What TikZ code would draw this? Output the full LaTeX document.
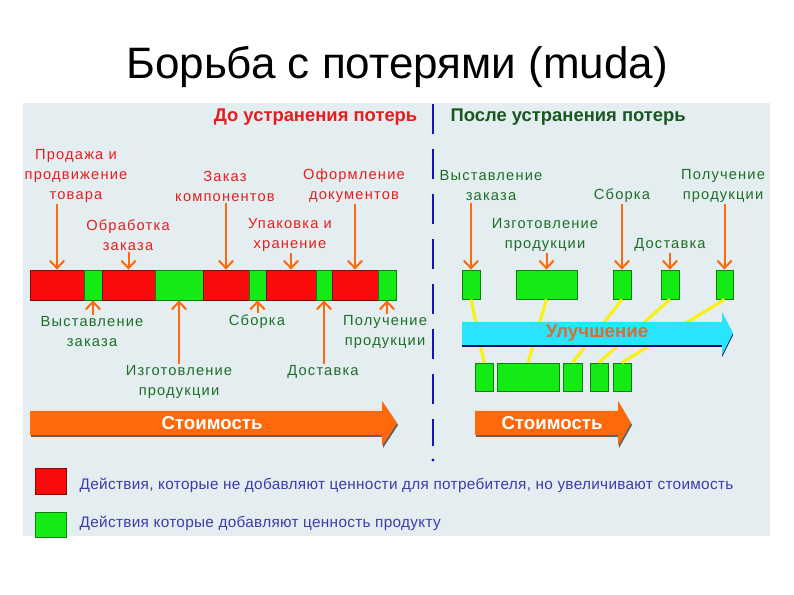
\documentclass[tikz,border=0pt]{standalone}
\usepackage{fontspec}
\setmainfont{Liberation Sans}
\newfontfamily\lbl[LetterSpace=8]{Liberation Sans}
\newfontfamily\lgd[LetterSpace=2]{Liberation Sans}
\usetikzlibrary{arrows.meta,fit,shadows}
\definecolor{waste}{RGB}{250,10,10}
\definecolor{value}{RGB}{20,235,20}
\definecolor{rust}{RGB}{255,105,10}
\definecolor{sky}{RGB}{40,228,252}
\definecolor{panel}{RGB}{228,238,240}
\definecolor{redtxt}{RGB}{228,30,30}
\definecolor{grntxt}{RGB}{30,110,40}
\definecolor{navy}{RGB}{20,20,190}
\definecolor{lgdtxt}{RGB}{60,60,170}
\definecolor{yel}{RGB}{250,240,20}
\definecolor{improve}{RGB}{215,110,50}
\tikzset{
  >={Straight Barb[length=2mm,width=3.8mm]},
  seg/.style={draw=#1!55!black,fill=#1,inner sep=0pt,line width=0.6pt},
  seg/.default=value,
  lab/.style={text=#1,font=\lbl\fontsize{11}{15}\selectfont,align=center,inner sep=1pt},
  lab/.default=grntxt,
  pin/.style={->,rust,line width=1.5pt},
  link/.style={yel,line width=2.4pt},
  bigarrow/.style={fill=#1,drop shadow={shadow xshift=0.8pt,shadow yshift=-1.5pt,opacity=0.8,fill=black!75}},
  bigarrow/.default=rust,
  head/.style={font=\bfseries\fontsize{13.8}{16}\selectfont,text=#1},
  cost/.style={font=\bfseries\fontsize{14}{16}\selectfont,text=white},
  key/.style={font=\lgd\fontsize{11.5}{14}\selectfont,text=lgdtxt,anchor=west}
}
\begin{document}
\begin{tikzpicture}[x=0.75pt,y=-0.75pt]
  \useasboundingbox (0,0) rectangle (794,595);
  \node[font=\fontsize{33}{38}\selectfont,anchor=base] (title) at (397,79) {Борьба с потерями (muda)};
  \fill[panel] (23,103) rectangle (770,536);
  \draw[navy,line width=2.2pt,dash pattern=on 22.5pt off 11.25pt] (433,104) -- (433,446);
  \fill[navy] (433,460) circle (1.3pt);
  \node[head=redtxt,anchor=east] (before) at (422,117) {До устранения потерь};
  \node[head=grntxt!80!black,anchor=west] (after) at (446,117) {После устранения потерь};

  % before
  \foreach \a/\b/\c/\n in {30/84/waste/r1,84/102/value/g1,102/155/waste/r2,155/203/value/g2,
      203/249/waste/r3,249/266/value/g3,266/316/waste/r4,316/332/value/g4,332/378/waste/r5,378/396/value/g5}
    \node[seg=\c,fit={(\a,270) (\b,300)}] (\n) {};
  \node[lab=redtxt] (l1) at (76,176) {Продажа и\\продвижение\\товара};
  \node[lab=redtxt] (l2) at (128,235) {Обработка\\заказа};
  \node[lab=redtxt] (l3) at (225,186) {Заказ\\компонентов};
  \node[lab=redtxt] (l4) at (290,235) {Упаковка и\\хранение};
  \node[lab=redtxt] (l5) at (354,186) {Оформление\\документов};
  \foreach \n in {1,...,5} \draw[pin] (r\n.north |- l\n.south) -- (r\n.north);
  \node[lab] (b1) at (92,332) {Выставление\\заказа};
  \node[lab] (b2) at (179,382) {Изготовление\\продукции};
  \node[lab] (b3) at (257,322) {Сборка};
  \node[lab] (b4) at (323,372) {Доставка};
  \node[lab] (b5) at (385,332) {Получение\\продукции};
  \foreach \n in {1,...,5} \draw[pin] (g\n.south |- b\n.north) -- (g\n.south);
  \fill[bigarrow] (30,411) -- (382,411) -- (382,401) -- (397,423) -- (382,446) -- (382,435) -- (30,435) -- cycle;
  \node[cost] (cost1) at (212,423) {Стоимость};

  % after
  \foreach \a/\b/\n in {462/480/t1,516/577/t2,613/631/t3,661/679/t4,716/733/t5}
    \node[seg,fit={(\a,270) (\b,299)}] (\n) {};
  \node[lab] (a1) at (491,186) {Выставление\\заказа};
  \node[lab] (a2) at (545,235) {Изготовление\\продукции};
  \node[lab] (a3) at (622,196) {Сборка};
  \node[lab] (a4) at (670,245) {Доставка};
  \node[lab] (a5) at (723,186) {Получение\\продукции};
  \foreach \n in {1,...,5} \draw[pin] (t\n.north |- a\n.south) -- (t\n.north);
  \foreach \a/\b/\n in {475/493/u1,497/559/u2,563/582/u3,590/608/u4,613/631/u5}
    \node[seg,fit={(\a,363) (\b,391)}] (\n) {};
  \foreach \n in {1,...,5} \draw[link] (t\n.south) -- (u\n.north);
  \fill[sky,drop shadow={shadow xshift=0pt,shadow yshift=-1.5pt,opacity=1,fill=navy!60!black}]
    (462,322) -- (722,322) -- (722,312) -- (733,333) -- (722,355) -- (722,345) -- (462,345) -- cycle;
  \node[head=improve,font=\bfseries\fontsize{14}{16}\selectfont] (better) at (597,333) {Улучшение};
  \fill[bigarrow] (475,411) -- (618,411) -- (618,401) -- (631,423) -- (618,446) -- (618,435) -- (475,435) -- cycle;
  \node[cost] (cost2) at (552,423) {Стоимость};

  % legend
  \node[seg=waste,fit={(35,468) (66,494)}] (k1) {};
  \node[seg,fit={(35,512) (66,537)}] (k2) {};
  \node[key] (kt1) at (75,485) {Действия, которые не добавляют ценности для потребителя, но увеличивают стоимость};
  \node[key] (kt2) at (75,523) {Действия которые добавляют ценность продукту};
\end{tikzpicture}
\end{document}
